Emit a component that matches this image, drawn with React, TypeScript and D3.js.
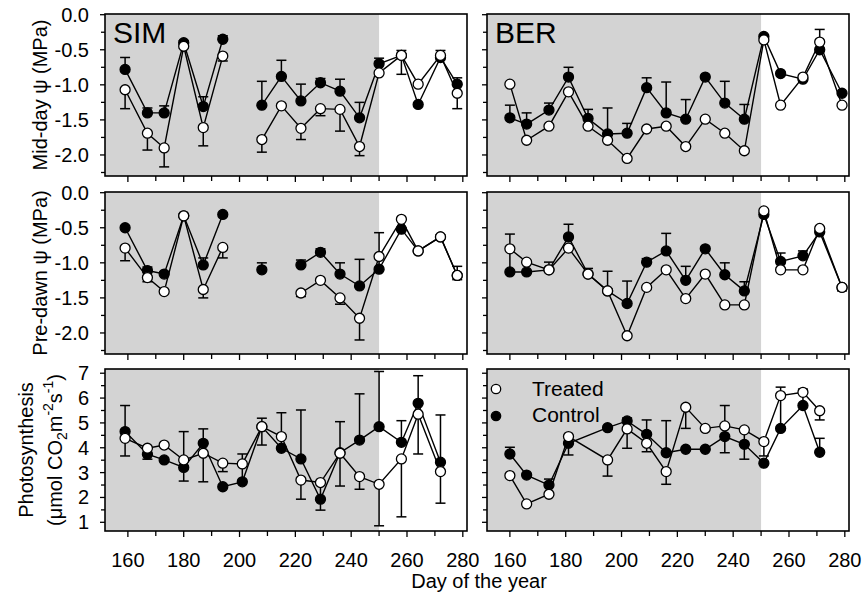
import * as d3 from "d3";

const W = 866;
const H = 596;
const FONT = "'Liberation Sans', Arial, Helvetica, sans-serif";
const SHADE = "#d3d3d3";

// sampling days
const simDays = [159, 167, 173, 180, 187, 194, 201, 208, 215, 222, 229, 236, 243, 250, 258, 264, 272, 278];
const berDays = [160, 166, 174, 181, 188, 195, 202, 209, 216, 223, 230, 237, 244, 251, 257, 265, 271, 279];
const berPhotoDays = [160, 166, 174, 181, 195, 202, 209, 216, 223, 230, 237, 244, 251, 257, 265, 271];

// SIM mid-day water potential (MPa)
const simMidControl = [-0.78, -1.40, -1.40, -0.40, -1.31, -0.35, null, -1.29, -0.88, -1.23, -0.97, -1.09, -1.47, -0.70, -0.58, -1.28, -0.61, -0.99];
const simMidControlErr = [0.17, 0.07, 0.10, 0.03, 0.14, 0.05, 0, 0.34, 0.23, 0.24, 0.06, 0.17, 0.22, 0.08, 0.07, 0, 0.10, 0.09];
const simMidTreated = [-1.07, -1.69, -1.90, -0.45, -1.61, -0.59, null, -1.78, -1.30, -1.62, -1.34, -1.35, -1.88, -0.83, -0.58, -0.99, -0.58, -1.12];
const simMidTreatedErr = [0.27, 0.24, 0.27, 0.03, 0.26, 0.07, 0, 0.18, 0, 0.16, 0.10, 0.31, 0.13, 0, 0.27, 0, 0, 0.22];

// BER mid-day water potential (MPa)
const berMidControl = [-1.47, -1.56, -1.36, -0.89, -1.48, -1.70, -1.69, -1.04, -1.40, -1.49, -0.89, -1.26, -1.49, -0.31, -0.84, -0.92, -0.50, -1.12];
const berMidControlErr = [0.18, 0.16, 0.10, 0.14, 0.13, 0.37, 0.14, 0.14, 0.44, 0.28, 0, 0.31, 0.21, 0.02, 0, 0, 0.29, 0];
const berMidTreated = [-0.99, -1.79, -1.59, -1.10, -1.59, -1.79, -2.05, -1.63, -1.59, -1.88, -1.49, -1.69, -1.94, -0.36, -1.29, -0.89, -0.39, -1.29];
const berMidTreatedErr = [0, 0, 0, 0, 0, 0, 0, 0, 0, 0, 0, 0, 0, 0, 0, 0, 0, 0];

// SIM pre-dawn water potential (MPa)
const simPreControl = [-0.50, -1.11, -1.16, -0.33, -1.03, -0.31, null, -1.10, null, -1.03, -0.85, -1.16, -1.33, -1.09, -0.52, -0.83, -0.63, -1.18];
const simPreControlErr = [0, 0.05, 0.03, 0, 0.10, 0, 0, 0.10, 0, 0.07, 0.05, 0.16, 0.38, 0.52, 0, 0, 0, 0.13];
const simPreTreated = [-0.79, -1.21, -1.41, -0.33, -1.38, -0.78, null, null, null, -1.43, -1.25, -1.50, -1.79, -0.91, -0.38, -0.83, -0.63, -1.18];
const simPreTreatedErr = [0.18, 0.06, 0, 0, 0.12, 0.15, 0, 0, 0, 0.05, 0, 0.09, 0.31, 0, 0, 0, 0, 0.06];

// BER pre-dawn water potential (MPa)
const berPreControl = [-1.13, -1.13, -1.10, -0.63, -1.16, -1.40, -1.58, -0.99, -0.83, -1.25, -0.80, -1.17, -1.40, -0.31, -0.98, -0.90, -0.56, -1.35];
const berPreControlErr = [0.54, 0, 0.11, 0.18, 0.08, 0.28, 0.32, 0.05, 0.25, 0.20, 0, 0.17, 0.13, 0, 0.12, 0.07, 0, 0];
const berPreTreated = [-0.80, -0.99, -1.10, -0.79, -1.16, -1.40, -2.04, -1.35, -1.10, -1.51, -1.16, -1.60, -1.60, -0.26, -1.10, -1.10, -0.51, -1.35];
const berPreTreatedErr = [0, 0, 0, 0, 0, 0, 0, 0, 0, 0, 0, 0, 0, 0, 0, 0, 0, 0.05];

// SIM photosynthesis (umol CO2 m-2 s-1)
const simPhotoControl = [4.65, 3.74, 3.51, 3.21, 4.18, 2.43, 2.63, 4.85, 3.98, 3.55, 1.93, 3.80, 4.31, 4.85, 4.22, 5.79, 3.42, null];
const simPhotoControlErr = [1.05, 0, 0, 1.44, 0.58, 0, 1.12, 0.34, 1.43, 1.97, 0, 1.25, 1.86, 2.22, 0.87, 1.11, 1.90, 0];
const simPhotoTreated = [4.38, 3.98, 4.11, 3.51, 3.78, 3.38, 3.35, 4.85, 4.45, 2.70, 2.60, 3.78, 2.84, 2.53, 3.55, 5.35, 3.04, null];
const simPhotoTreatedErr = [0.71, 0.44, 0, 0.85, 1.15, 0.34, 0, 0.74, 0, 0.77, 1.11, 1.32, 0.51, 1.67, 2.33, 1.60, 1.27, 0];

// BER photosynthesis
const berPhotoControl = [3.75, 2.90, 2.50, 4.18, 4.81, 5.08, 4.54, 3.80, 3.94, 3.94, 4.45, 4.14, 3.38, 4.78, 5.70, 3.82];
const berPhotoControlErr = [0.27, 0.05, 0.24, 0, 0, 0.12, 0.58, 1.29, 0, 0, 1.25, 0, 0, 1.66, 0.66, 0.56];
const berPhotoTreated = [2.88, 1.74, 2.13, 4.45, 3.51, 4.76, 4.18, 3.04, 5.63, 4.78, 4.88, 4.72, 4.25, 6.10, 6.23, 5.49];
const berPhotoTreatedErr = [0, 0, 0, 0.74, 0.65, 0.78, 0.34, 0.51, 0.85, 0, 1.08, 1.18, 0.58, 0, 0, 0.37];

// axes
const dayDomain = [151.8, 281.5];
const treatmentEnd = 250;
const xTicks = d3.range(160, 281, 10);
const xLabelTicks = [160, 180, 200, 220, 240, 260, 280];
const psiDomain = [-2.3, 0.01];
const psiMajor = [0, -0.5, -1.0, -1.5, -2.0];
const psiMinor = [-0.25, -0.75, -1.25, -1.75, -2.25];
const photoDomain = [0.65, 7.17];
const photoMajor = [1, 2, 3, 4, 5, 6, 7];
const photoMinor = [1.5, 2.5, 3.5, 4.5, 5.5, 6.5];

const COLS = [105, 487];
const PANEL_W = 362;
const ROWS = [14, 192, 369];
const PANEL_H = 162;

type Vals = (number | null)[];

type PanelProps = {
  x0: number;
  y0: number;
  days: number[];
  control: Vals;
  controlErr: number[];
  treated: Vals;
  treatedErr: number[];
  yDomain: number[];
  yMajor: number[];
  yMinor: number[];
  yFormat: (v: number) => string;
  showY: boolean;
  showX: boolean;
  site?: string;
  legend?: boolean;
};

const Panel = (p: PanelProps) => {
  const xs = d3.scaleLinear().domain(dayDomain).range([p.x0, p.x0 + PANEL_W]);
  const ys = d3.scaleLinear().domain(p.yDomain).range([p.y0 + PANEL_H, p.y0]);
  const idx = d3.range(p.days.length);

  const lineFor = (vals: Vals) =>
    d3
      .line<number>()
      .defined((i) => vals[i] != null)
      .x((i) => xs(p.days[i]))
      .y((i) => ys(vals[i] as number))(idx) || "";

  const errBars = (vals: Vals, errs: number[], dir: number, key: string) =>
    idx.map((i) => {
      const v = vals[i];
      const e = errs[i];
      if (v == null || !e) return null;
      const cx = xs(p.days[i]);
      const yEnd = ys(v + dir * e);
      return (
        <g key={key + i} stroke="#000" strokeWidth={1.5}>
          <line x1={cx} x2={cx} y1={ys(v)} y2={yEnd} />
          <line x1={cx - 5} x2={cx + 5} y1={yEnd} y2={yEnd} />
        </g>
      );
    });

  const markers = (vals: Vals, fill: string, key: string) =>
    idx.map((i) =>
      vals[i] == null ? null : (
        <circle
          key={key + i}
          cx={xs(p.days[i])}
          cy={ys(vals[i] as number)}
          r={5}
          fill={fill}
          stroke="#000"
          strokeWidth={1.3}
        />
      )
    );

  const bottom = p.y0 + PANEL_H;

  return (
    <g>
      <rect x={p.x0} y={p.y0} width={xs(treatmentEnd) - p.x0} height={PANEL_H} fill={SHADE} />
      <path d={lineFor(p.control)} fill="none" stroke="#000" strokeWidth={1.4} />
      <path d={lineFor(p.treated)} fill="none" stroke="#000" strokeWidth={1.4} />
      {errBars(p.control, p.controlErr, 1, "ce")}
      {errBars(p.treated, p.treatedErr, -1, "te")}
      {markers(p.control, "#000", "cm")}
      {markers(p.treated, "#fff", "tm")}
      <rect x={p.x0} y={p.y0} width={PANEL_W} height={PANEL_H} fill="none" stroke="#000" strokeWidth={1.6} />
      {/* x ticks */}
      {xTicks.map((t) => (
        <line key={"xt" + t} x1={xs(t)} x2={xs(t)} y1={bottom} y2={bottom + (t % 20 === 0 ? 6 : 5)} stroke="#000" strokeWidth={1.3} />
      ))}
      {p.showX &&
        xLabelTicks.map((t) => (
          <text key={"xl" + t} x={xs(t)} y={567} textAnchor="middle" fontSize={20} fontFamily={FONT}>
            {t}
          </text>
        ))}
      {/* y ticks */}
      {p.yMajor.map((t) => (
        <line key={"ym" + t} x1={p.x0 - 5} x2={p.x0} y1={ys(t)} y2={ys(t)} stroke="#000" strokeWidth={1.3} />
      ))}
      {p.yMinor.map((t) => (
        <line key={"yn" + t} x1={p.x0 - 4} x2={p.x0} y1={ys(t)} y2={ys(t)} stroke="#000" strokeWidth={1.3} />
      ))}
      {p.showY &&
        p.yMajor.map((t) => (
          <text key={"yl" + t} x={p.x0 - 16} y={ys(t) + 7} textAnchor="end" fontSize={20} fontFamily={FONT}>
            {p.yFormat(t)}
          </text>
        ))}
      {p.site && (
        <text x={p.x0 + 8} y={p.y0 + 29} fontSize={30} fontFamily={FONT}>
          {p.site}
        </text>
      )}
      {p.legend && (
        <g fontFamily={FONT} fontSize={21}>
          <circle cx={p.x0 + 9} cy={p.y0 + 20} r={4.7} fill="#fff" stroke="#000" strokeWidth={1.3} />
          <text x={p.x0 + 45} y={p.y0 + 27}>Treated</text>
          <circle cx={p.x0 + 9} cy={p.y0 + 47} r={4.7} fill="#000" stroke="#000" strokeWidth={1.3} />
          <text x={p.x0 + 45} y={p.y0 + 53}>Control</text>
        </g>
      )}
    </g>
  );
};

const fmtPsi = (v: number) => (v === 0 ? "0.0" : d3.format(".1f")(v).replace("−", "-"));
const fmtPhoto = (v: number) => String(v);

export default function App() {
  return (
    <svg
      width={W}
      height={H}
      style={{ position: "absolute", left: 0, top: 0, background: "#fff" }}
      fontFamily={FONT}
    >
      <Panel x0={COLS[0]} y0={ROWS[0]} days={simDays} control={simMidControl} controlErr={simMidControlErr}
        treated={simMidTreated} treatedErr={simMidTreatedErr} yDomain={psiDomain} yMajor={psiMajor} yMinor={psiMinor}
        yFormat={fmtPsi} showY showX={false} site="SIM" />
      <Panel x0={COLS[1]} y0={ROWS[0]} days={berDays} control={berMidControl} controlErr={berMidControlErr}
        treated={berMidTreated} treatedErr={berMidTreatedErr} yDomain={psiDomain} yMajor={psiMajor} yMinor={psiMinor}
        yFormat={fmtPsi} showY={false} showX={false} site="BER" />
      <Panel x0={COLS[0]} y0={ROWS[1]} days={simDays} control={simPreControl} controlErr={simPreControlErr}
        treated={simPreTreated} treatedErr={simPreTreatedErr} yDomain={psiDomain} yMajor={psiMajor} yMinor={psiMinor}
        yFormat={fmtPsi} showY showX={false} />
      <Panel x0={COLS[1]} y0={ROWS[1]} days={berDays} control={berPreControl} controlErr={berPreControlErr}
        treated={berPreTreated} treatedErr={berPreTreatedErr} yDomain={psiDomain} yMajor={psiMajor} yMinor={psiMinor}
        yFormat={fmtPsi} showY={false} showX={false} />
      <Panel x0={COLS[0]} y0={ROWS[2]} days={simDays} control={simPhotoControl} controlErr={simPhotoControlErr}
        treated={simPhotoTreated} treatedErr={simPhotoTreatedErr} yDomain={photoDomain} yMajor={photoMajor} yMinor={photoMinor}
        yFormat={fmtPhoto} showY showX />
      <Panel x0={COLS[1]} y0={ROWS[2]} days={berPhotoDays} control={berPhotoControl} controlErr={berPhotoControlErr}
        treated={berPhotoTreated} treatedErr={berPhotoTreatedErr} yDomain={photoDomain} yMajor={photoMajor} yMinor={photoMinor}
        yFormat={fmtPhoto} showY={false} showX legend />

      {/* axis titles */}
      <text transform={`translate(47,${ROWS[0] + PANEL_H / 2}) rotate(-90)`} textAnchor="middle" fontSize={20}>
        Mid-day ψ (MPa)
      </text>
      <text transform={`translate(47,${ROWS[1] + PANEL_H / 2}) rotate(-90)`} textAnchor="middle" fontSize={20}>
        Pre-dawn ψ (MPa)
      </text>
      <text transform={`translate(33,${ROWS[2] + PANEL_H / 2}) rotate(-90)`} textAnchor="middle" fontSize={20}>
        Photosynthesis
      </text>
      <text transform={`translate(62,${ROWS[2] + PANEL_H / 2}) rotate(-90)`} textAnchor="middle" fontSize={20}>
        (μmol CO<tspan fontSize={14} dy={5}>2</tspan>
        <tspan dy={-5}>m</tspan>
        <tspan fontSize={14} dy={-9}>-2</tspan>
        <tspan dy={9}>s</tspan>
        <tspan fontSize={14} dy={-9}>-1</tspan>
        <tspan dy={9}>)</tspan>
      </text>
      <text x={479} y={588} textAnchor="middle" fontSize={20}>
        Day of the year
      </text>
    </svg>
  );
}
